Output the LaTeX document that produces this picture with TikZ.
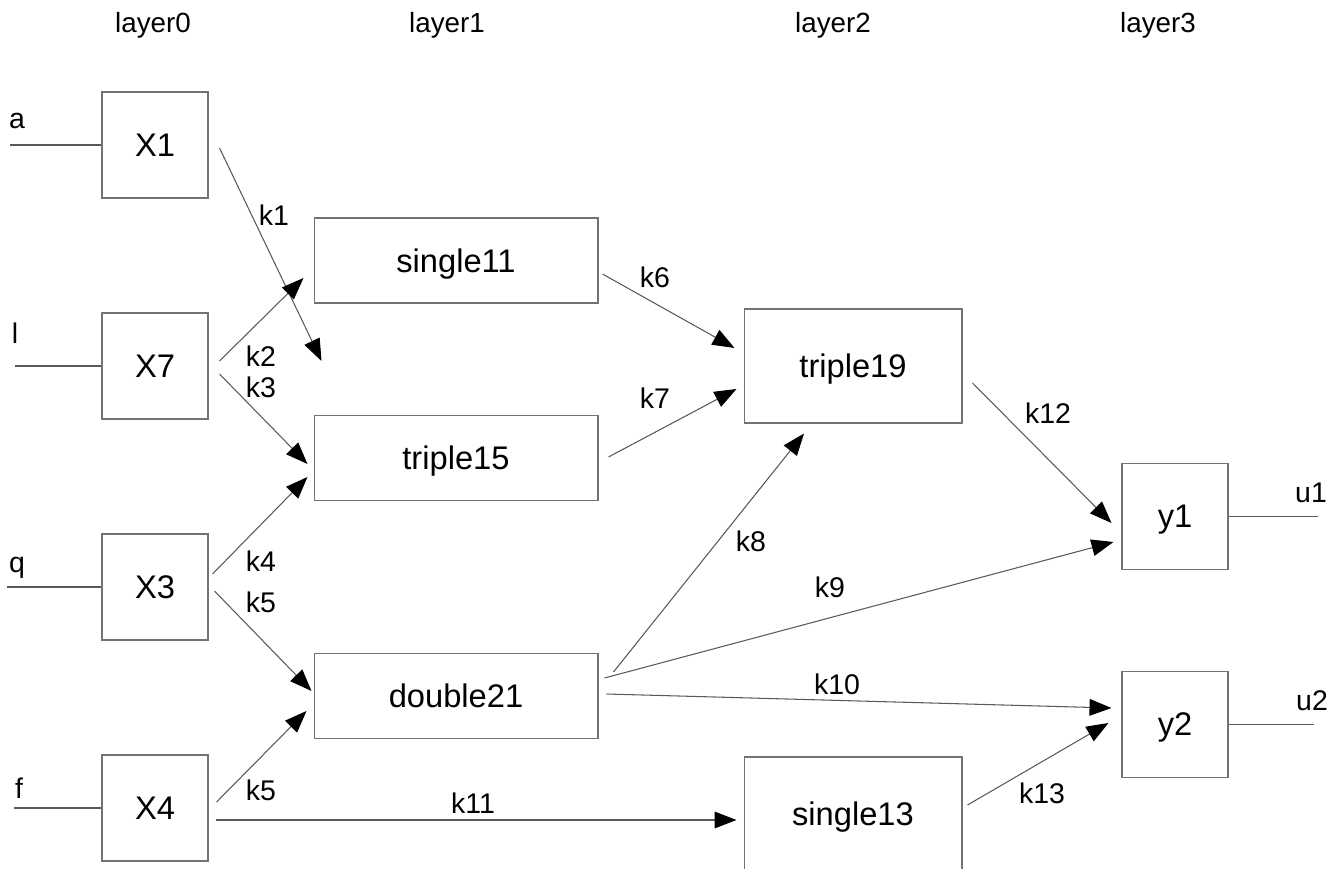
\documentclass[tikz,border=0pt]{standalone}
\usepackage{fontspec}
\setmainfont{Liberation Sans}
\usetikzlibrary{arrows.meta}
\tikzset{
  unit/.style={draw=black!55, line width=0.6pt, minimum width=2.12cm, minimum height=2.12cm,
    inner sep=0pt, text depth=0pt, font=\fontsize{18.6}{21}\selectfont},
  cell/.style={unit, minimum width=5.68cm, minimum height=1.7cm},
  block/.style={unit, minimum width=4.36cm, minimum height=2.28cm},
  lbl/.style={anchor=base, inner sep=0pt, font=\fontsize{16.2}{18}\selectfont},
  hdr/.style={anchor=base, inner sep=0pt, font=\fontsize{15.8}{18}\selectfont},
  wire/.style={draw=black!65, line width=0.6pt},
  arr/.style={wire, -{Triangle[length=12.5pt, width=9.5pt, black]}}
}
\begin{document}
\begin{tikzpicture}[x=0.02cm, y=-0.02cm]
 \useasboundingbox (0,0) rectangle (1343,869);
 \clip (0,0) rectangle (1343,869);
 % layer titles
 \node[hdr] (layer0) at (153,32) {layer0};
 \node[hdr] (layer1) at (447,32) {layer1};
 \node[hdr] (layer2) at (833,32) {layer2};
 \node[hdr] (layer3) at (1158,32) {layer3};
 % boxes
 \node[unit] (X1) at (155,145) {X1};
 \node[unit] (X7) at (155,366) {X7};
 \node[unit] (X3) at (155,587) {X3};
 \node[unit] (X4) at (155,808) {X4};
 \node[cell] (single11) at (456,260.5) {single11};
 \node[cell] (triple15) at (456,458) {triple15};
 \node[cell] (double21) at (456,696) {double21};
 \node[block] (triple19) at (853,366) {triple19};
 \node[block] (single13) at (853,814) {single13};
 \node[unit] (y1) at (1175,516.5) {y1};
 \node[unit] (y2) at (1175,724.5) {y2};
 % inputs and outputs
 \coordinate (ina) at (10,145);
 \coordinate (inl) at (15,366);
 \coordinate (inq) at (7,587);
 \coordinate (inf) at (14,808);
 \coordinate (outu1) at (1318,516.5);
 \coordinate (outu2) at (1314,724.5);
 \draw[wire] (ina) -- (X1.west);
 \draw[wire] (inl) -- (X7.west);
 \draw[wire] (inq) -- (X3.west);
 \draw[wire] (inf) -- (X4.west);
 \draw[wire] (y1.east) -- (outu1);
 \draw[wire] (y2.east) -- (outu2);
 \node[lbl] (ta) at (17,128) {a};
 \node[lbl] (tl) at (15,343) {l};
 \node[lbl] (tq) at (17,572) {q};
 \node[lbl] (tf) at (19,798) {f};
 \node[lbl] (tu1) at (1311,502) {u1};
 \node[lbl] (tu2) at (1312,710) {u2};
 % links
 \draw[arr] ([shift={(11,3)}]X1.east) -- ([shift={(8,-54)}]triple15.north west);
 \draw[arr] ([shift={(11,-5)}]X7.east) -- ([shift={(-10,17.5)}]single11.west);
 \draw[arr] ([shift={(11,8)}]X7.east) -- ([shift={(-6,6)}]triple15.west);
 \draw[arr] ([shift={(4,-13)}]X3.east) -- ([shift={(-6,19)}]triple15.west);
 \draw[arr] ([shift={(6,4)}]X3.east) -- ([shift={(-2,-5)}]double21.west);
 \draw[arr] ([shift={(8,-6)}]X4.east) -- ([shift={(-7,15)}]double21.west);
 \draw[arr] ([shift={(7,12)}]X4.east) -- ([shift={(-7,6)}]single13.west);
 \draw[arr] ([shift={(4,13.5)}]single11.east) -- ([shift={(-9,-18)}]triple19.west);
 \draw[arr] ([shift={(10,-1)}]triple15.east) -- ([shift={(-7,23)}]triple19.west);
 \draw[arr] ([shift={(15,-24)}]double21.east) -- ([shift={(-49,10)}]triple19.south);
 \draw[arr] ([shift={(6,-18)}]double21.east) -- ([shift={(-8,25.5)}]y1.west);
 \draw[arr] ([shift={(8,-2)}]double21.east) -- ([shift={(-10,-16.5)}]y2.west);
 \draw[arr] ([shift={(10,17)}]triple19.east) -- ([shift={(-10,6.5)}]y1.west);
 \draw[arr] ([shift={(5,-9)}]single13.east) -- ([shift={(-13,-1.5)}]y2.west);
 % link labels
 \node[lbl] (k1) at (274,225) {k1};
 \node[lbl] (k2) at (261,366) {k2};
 \node[lbl] (k3) at (261,397) {k3};
 \node[lbl] (k4) at (261,571) {k4};
 \node[lbl] (k5) at (261,612) {k5};
 \node[lbl] (k5b) at (261,800) {k5};
 \node[lbl] (k6) at (655,287) {k6};
 \node[lbl] (k7) at (655,408) {k7};
 \node[lbl] (k8) at (751,551) {k8};
 \node[lbl] (k9) at (830,597) {k9};
 \node[lbl] (k10) at (837,694) {k10};
 \node[lbl] (k11) at (473,813) {k11};
 \node[lbl] (k12) at (1048,423) {k12};
 \node[lbl] (k13) at (1042,803) {k13};
\end{tikzpicture}
\end{document}
